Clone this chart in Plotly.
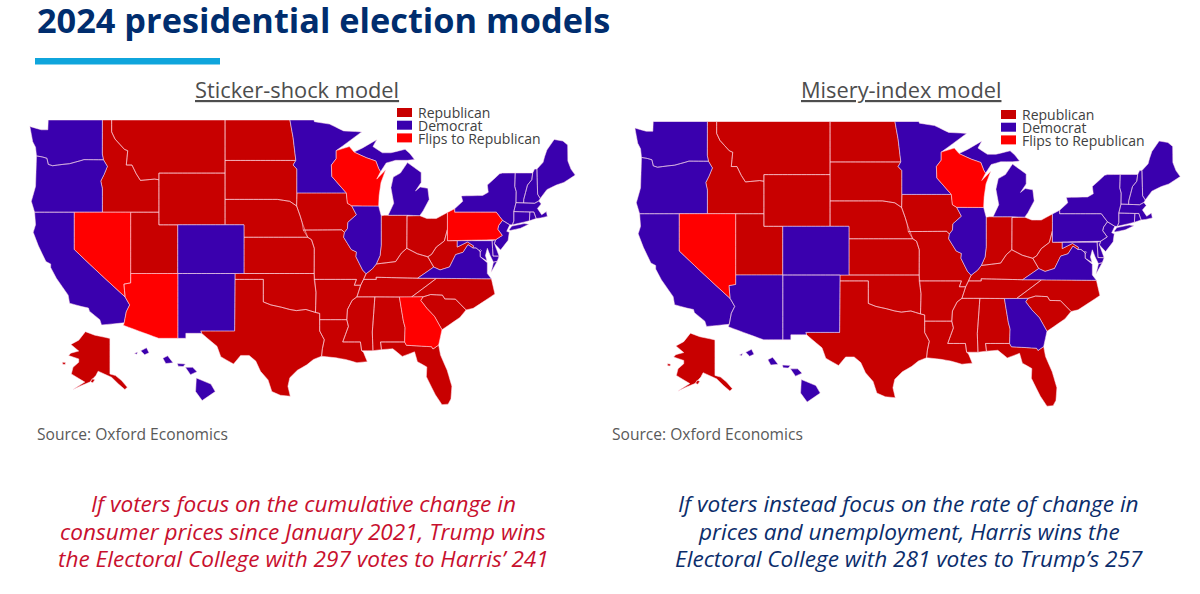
import plotly.graph_objects as go

# Category of each state in the two models
STICKER_REPUBLICAN = ["MT", "ID", "WY", "ND", "SD", "NE", "KS", "OK", "TX", "UT", "MO", "IA", "AR", "LA", "MS", "AL",
                      "TN", "KY", "IN", "OH", "WV", "SC", "NC", "FL", "AK"]
STICKER_DEMOCRAT = ["WA", "OR", "CA", "CO", "NM", "MN", "IL", "MI", "VA", "MD", "DC", "DE", "NJ", "NY", "CT", "RI",
                    "MA", "VT", "NH", "ME", "HI"]
STICKER_FLIPS = ["WI", "NV", "AZ", "GA", "PA"]

MISERY_REPUBLICAN = ["MT", "ID", "WY", "ND", "SD", "NE", "KS", "OK", "TX", "UT", "MO", "IA", "AR", "LA", "MS", "AL",
                     "TN", "KY", "IN", "OH", "WV", "SC", "NC", "FL", "AK"]
MISERY_DEMOCRAT = ["WA", "OR", "CA", "CO", "NM", "AZ", "MN", "IL", "MI", "VA", "MD", "DC", "DE", "NJ", "NY", "PA",
                   "CT", "RI", "MA", "VT", "NH", "ME", "HI", "GA"]
MISERY_FLIPS = ["WI", "NV"]

LEGEND_LABELS = ["Republican", "Democrat", "Flips to Republican"]
COLORS = ["#C80000", "#3A00AE", "#FF0000"]

STICKER_CAPTION = [
    "If voters focus on the cumulative change in",
    "consumer prices since January 2021, Trump wins",
    "the Electoral College with 297 votes to Harris’ 241",
]
MISERY_CAPTION = [
    "If voters instead focus on the rate of change in",
    "prices and unemployment, Harris wins the",
    "Electoral College with 281 votes to Trump’s 257",
]

# Hand-traced state outlines (lon, lat)
STATE_RINGS = {
    "WA": [[(-124.7, 48.38), (-123.5, 48.15), (-122.8, 48.15), (-122.75, 49), (-117.03, 49), (-117.04, 46.42),
            (-116.92, 45.99), (-118.98, 46), (-119.3, 45.93), (-120.5, 45.7), (-121.2, 45.65), (-122.3, 45.55),
            (-122.75, 45.65), (-122.9, 46.1), (-123.4, 46.2), (-124, 46.27), (-124.1, 46.9), (-124.4, 47.3)]],
    "OR": [[(-124, 46.27), (-123.4, 46.2), (-122.9, 46.1), (-122.75, 45.65), (-122.3, 45.55), (-121.2, 45.65),
            (-120.5, 45.7), (-119.3, 45.93), (-118.98, 46), (-116.92, 45.99), (-116.5, 45.5), (-116.85, 44.9),
            (-117.2, 44.4), (-117.03, 43.83), (-117.03, 42), (-124.2, 42), (-124.55, 42.85), (-124.1, 44)]],
    "CA": [[(-124.2, 42), (-120, 42), (-120, 39), (-114.63, 35), (-114.14, 34.3), (-114.5, 33.7), (-114.72, 32.72),
            (-117.12, 32.53), (-117.3, 33), (-118.4, 33.75), (-118.5, 34.03), (-119.2, 34.15), (-120.5, 34.45),
            (-120.65, 35.15), (-121.9, 36.6), (-122.5, 37.5), (-122.5, 37.8), (-123, 38), (-123.8, 39.3),
            (-124.35, 40.4), (-124.1, 41)]],
    "NV": [[(-120, 42), (-114.04, 42), (-114.04, 36.2), (-114.75, 36.1), (-114.63, 35), (-120, 39)]],
    "ID": [[(-117.03, 49), (-116.05, 49), (-116.05, 48), (-115.7, 47.5), (-114.7, 46.75), (-114.35, 46.65),
            (-114.5, 45.6), (-113.9, 45.6), (-113.45, 44.95), (-113, 44.45), (-111.5, 44.55), (-111.05, 44.5),
            (-111.05, 42), (-117.03, 42), (-117.03, 43.83), (-117.2, 44.4), (-116.85, 44.9), (-116.5, 45.5),
            (-116.92, 45.99), (-117.04, 46.42)]],
    "MT": [[(-116.05, 49), (-104.05, 49), (-104.05, 45), (-111.05, 45), (-111.05, 44.5), (-111.5, 44.55), (-113, 44.45),
            (-113.45, 44.95), (-113.9, 45.6), (-114.5, 45.6), (-114.35, 46.65), (-114.7, 46.75), (-115.7, 47.5),
            (-116.05, 48)]],
    "WY": [[(-111.05, 45), (-104.05, 45), (-104.05, 41), (-111.05, 41)]],
    "UT": [[(-114.04, 42), (-111.05, 42), (-111.05, 41), (-109.05, 41), (-109.05, 37), (-114.04, 37)]],
    "CO": [[(-109.05, 41), (-102.05, 41), (-102.05, 37), (-109.05, 37)]],
    "AZ": [[(-114.04, 37), (-109.05, 37), (-109.05, 31.33), (-111.07, 31.33), (-114.81, 32.5), (-114.72, 32.72),
            (-114.5, 33.7), (-114.14, 34.3), (-114.63, 35), (-114.75, 36.1), (-114.04, 36.2)]],
    "NM": [[(-109.05, 37), (-103, 37), (-103.04, 32), (-106.62, 32), (-106.53, 31.78), (-108.2, 31.78), (-108.2, 31.33),
            (-109.05, 31.33)]],
    "ND": [[(-104.05, 49), (-97.23, 49), (-96.85, 47.6), (-96.56, 45.94), (-104.05, 45.94)]],
    "SD": [[(-104.05, 45.94), (-96.56, 45.94), (-96.85, 45.6), (-96.45, 45.3), (-96.45, 43.5), (-96.48, 42.49),
            (-97.2, 42.85), (-98.5, 43), (-104.05, 43)]],
    "NE": [[(-104.05, 43), (-98.5, 43), (-97.2, 42.85), (-96.48, 42.49), (-96.1, 41.7), (-95.9, 41.2), (-95.3, 40),
            (-102.05, 40), (-102.05, 41), (-104.05, 41)]],
    "KS": [[(-102.05, 40), (-95.3, 40), (-94.9, 39.8), (-94.61, 39.1), (-94.62, 37), (-102.05, 37)]],
    "OK": [[(-103, 37), (-94.62, 37), (-94.43, 35.4), (-94.48, 33.64), (-95.5, 33.9), (-96.5, 33.8), (-97.2, 33.9),
            (-98.1, 34.1), (-99.2, 34.3), (-100, 34.56), (-100, 36.5), (-103, 36.5)]],
    "TX": [[(-106.62, 32), (-103.04, 32), (-103, 36.5), (-100, 36.5), (-100, 34.56), (-99.2, 34.3), (-98.1, 34.1),
            (-97.2, 33.9), (-96.5, 33.8), (-95.5, 33.9), (-94.48, 33.64), (-94.04, 33.55), (-94.04, 31.99),
            (-93.55, 31.2), (-93.75, 30.4), (-93.84, 29.7), (-94.7, 29.4), (-95.4, 28.9), (-96.4, 28.4), (-97.2, 27.7),
            (-97.4, 26.9), (-97.15, 25.96), (-98.2, 26.05), (-99.1, 26.4), (-99.5, 27.5), (-100.3, 28.3),
            (-100.8, 29.25), (-101.5, 29.77), (-102.4, 29.77), (-103.15, 28.98), (-104.5, 29.65), (-104.9, 30.6),
            (-106.53, 31.78)]],
    "MN": [[(-97.23, 49), (-95.15, 49), (-95.15, 49.38), (-94.8, 49.3), (-94.6, 48.72), (-93, 48.55), (-91.5, 48.07),
            (-89.6, 48), (-92.1, 46.75), (-92.29, 46.66), (-92.29, 46.07), (-92.8, 45.6), (-92.75, 44.75),
            (-91.22, 43.5), (-96.45, 43.5), (-96.45, 45.3), (-96.85, 45.6), (-96.56, 45.94), (-96.85, 47.6)]],
    "IA": [[(-96.45, 43.5), (-91.22, 43.5), (-91.1, 42.7), (-90.65, 42.5), (-90.15, 41.8), (-91.05, 41.2),
            (-91.1, 40.7), (-91.42, 40.38), (-91.7, 40.6), (-95.77, 40.58), (-95.9, 41.2), (-96.1, 41.7),
            (-96.48, 42.49)]],
    "MO": [[(-95.77, 40.58), (-91.7, 40.6), (-91.42, 40.38), (-91.5, 40), (-90.7, 39), (-90.15, 38.8), (-90.2, 38.4),
            (-89.5, 37.3), (-89.13, 36.98), (-89.4, 36.5), (-89.7, 36), (-90.37, 36), (-90.15, 36.5), (-94.62, 36.5),
            (-94.62, 37), (-94.61, 39.1), (-94.9, 39.8), (-95.3, 40)]],
    "AR": [[(-94.62, 36.5), (-90.15, 36.5), (-90.37, 36), (-89.7, 36), (-90.1, 35), (-90.6, 34.7), (-91.1, 33.9),
            (-91.17, 33), (-94.04, 33), (-94.04, 33.55), (-94.48, 33.64), (-94.43, 35.4)]],
    "LA": [[(-94.04, 33), (-91.17, 33), (-91, 32.4), (-91.6, 31), (-89.73, 31), (-89.6, 30.2), (-89.4, 30.05),
            (-89, 29.2), (-90.1, 29.1), (-91.3, 29.4), (-92.3, 29.55), (-93.84, 29.7), (-93.75, 30.4), (-93.55, 31.2),
            (-94.04, 31.99)]],
    "WI": [[(-92.29, 46.66), (-90.9, 46.95), (-90.4, 46.55), (-89.1, 46.14), (-88.1, 45.9), (-87.8, 45.35),
            (-87.6, 45.1), (-88, 44.55), (-87.05, 45.25), (-87.55, 44.3), (-87.75, 43.3), (-87.8, 42.49),
            (-90.65, 42.5), (-91.1, 42.7), (-91.22, 43.5), (-92.75, 44.75), (-92.8, 45.6), (-92.29, 46.07)]],
    "IL": [[(-90.65, 42.5), (-87.8, 42.49), (-87.53, 41.72), (-87.53, 39.35), (-87.65, 38.5), (-88.05, 37.8),
            (-88.45, 37.4), (-89.13, 36.98), (-89.5, 37.3), (-90.2, 38.4), (-90.15, 38.8), (-90.7, 39), (-91.5, 40),
            (-91.42, 40.38), (-91.1, 40.7), (-91.05, 41.2), (-90.15, 41.8)]],
    "IN": [[(-87.53, 41.72), (-87.2, 41.76), (-84.8, 41.76), (-84.82, 39.1), (-85.4, 38.7), (-86, 38), (-87, 37.9),
            (-88.05, 37.8), (-87.65, 38.5), (-87.53, 39.35)]],
    "OH": [[(-84.8, 41.7), (-83.45, 41.73), (-82.7, 41.5), (-81.7, 41.5), (-80.52, 41.98), (-80.52, 40.64),
            (-80.85, 39.7), (-81.7, 39.2), (-82.2, 38.6), (-82.6, 38.4), (-83.7, 38.65), (-84.82, 39.1)]],
    "KY": [[(-89.4, 36.5), (-88.05, 36.5), (-88.07, 36.68), (-83.68, 36.6), (-81.97, 37.54), (-82.6, 38.4),
            (-83.7, 38.65), (-84.82, 39.1), (-85.4, 38.7), (-86, 38), (-87, 37.9), (-88.05, 37.8), (-88.45, 37.4),
            (-89.13, 36.98)]],
    "TN": [[(-90.1, 35), (-89.7, 36), (-89.4, 36.5), (-88.05, 36.5), (-88.07, 36.68), (-83.68, 36.6), (-81.68, 36.59),
            (-82.6, 36.03), (-84.32, 34.99), (-88.2, 35)]],
    "MS": [[(-90.1, 35), (-88.2, 35), (-88.47, 31.9), (-88.4, 30.2), (-89.6, 30.2), (-89.73, 31), (-91.6, 31),
            (-91, 32.4), (-91.17, 33), (-91.1, 33.9), (-90.6, 34.7)]],
    "AL": [[(-88.2, 35), (-85.6, 34.98), (-85.18, 32.87), (-85, 32.3), (-85.05, 31), (-87.6, 31), (-87.5, 30.3),
            (-88, 30.25), (-88.4, 30.2), (-88.47, 31.9)]],
    "GA": [[(-85.6, 34.98), (-83.1, 35), (-83.35, 34.7), (-82.7, 34), (-81.9, 33.3), (-81.1, 32.1), (-81.45, 30.72),
            (-82.05, 30.36), (-82.2, 30.57), (-84.86, 30.7), (-85.05, 31), (-85, 32.3), (-85.18, 32.87)]],
    "FL": [[(-87.6, 31), (-85.05, 31), (-84.86, 30.7), (-82.2, 30.57), (-82.05, 30.36), (-81.45, 30.72), (-81.25, 29.8),
            (-80.55, 28.4), (-80.05, 26.9), (-80.15, 25.7), (-80.45, 25.2), (-81.1, 25.15), (-81.8, 26.1),
            (-82.2, 26.8), (-82.75, 27.8), (-82.7, 28.7), (-83.7, 29.2), (-84, 30.1), (-85.3, 29.68), (-86.3, 30.38),
            (-87.5, 30.3)]],
    "SC": [[(-83.1, 35), (-82.3, 35.2), (-81.05, 35.15), (-80.8, 34.82), (-79.67, 34.8), (-78.55, 33.86), (-79.2, 33.2),
            (-80.4, 32.5), (-81.1, 32.1), (-81.9, 33.3), (-82.7, 34), (-83.35, 34.7)]],
    "NC": [[(-84.32, 34.99), (-82.6, 36.03), (-81.68, 36.59), (-75.87, 36.55), (-75.5, 35.25), (-76.5, 34.7),
            (-77.8, 34), (-78.55, 33.86), (-79.67, 34.8), (-80.8, 34.82), (-81.05, 35.15), (-82.3, 35.2), (-83.1, 35)]],
    "VA": [[(-83.68, 36.6), (-81.68, 36.59), (-75.87, 36.55), (-76.3, 37), (-76.3, 37.9), (-77.05, 38.4),
            (-77.05, 38.85), (-77.5, 39.13), (-77.83, 39.13), (-78.35, 39.4), (-78.87, 38.77), (-79.65, 38.58),
            (-80.3, 37.55), (-81.3, 37.3), (-81.97, 37.54)],
           [(-75.9, 37.1), (-75.25, 38.03), (-75.65, 37.95)]],
    "WV": [[(-82.6, 38.4), (-81.97, 37.54), (-81.3, 37.3), (-80.3, 37.55), (-79.65, 38.58), (-78.87, 38.77),
            (-78.35, 39.4), (-77.83, 39.13), (-77.75, 39.3), (-78.4, 39.62), (-79.48, 39.2), (-79.48, 39.72),
            (-80.52, 39.72), (-80.52, 40.64), (-80.85, 39.7), (-81.7, 39.2), (-82.2, 38.6)]],
    "PA": [[(-80.52, 41.98), (-79.76, 42.27), (-79.76, 42), (-75.35, 42), (-74.7, 41.36), (-75.1, 40.95), (-75.2, 40.65),
            (-74.72, 40.15), (-75.42, 39.8), (-80.52, 39.72), (-80.52, 40.64)]],
    "NY": [[(-79.76, 42), (-79.76, 42.27), (-78.9, 42.85), (-79.05, 43.27), (-76.8, 43.3), (-76.2, 43.55), (-76.3, 44.1),
            (-75, 44.95), (-74.7, 45), (-73.35, 45.01), (-73.4, 44), (-73.25, 43.6), (-73.27, 42.75), (-73.5, 42.05),
            (-73.5, 41.3), (-73.65, 41), (-73.92, 41), (-74.7, 41.36), (-75.35, 42)],
           [(-74, 40.6), (-73.7, 40.9), (-72.4, 41.1), (-71.9, 41.05), (-72.8, 40.72), (-73.9, 40.55)]],
    "NJ": [[(-74.7, 41.36), (-73.92, 41), (-74.25, 40.48), (-73.98, 40.4), (-74.1, 39.75), (-74.9, 38.95), (-75.55, 39.5),
            (-75.42, 39.8), (-74.72, 40.15), (-75.2, 40.65), (-75.1, 40.95)]],
    "DE": [[(-75.79, 39.72), (-75.42, 39.8), (-75.55, 39.5), (-75.05, 38.45), (-75.7, 38.46)]],
    "MD": [[(-79.48, 39.72), (-75.79, 39.72), (-75.7, 38.46), (-75.05, 38.45), (-75.25, 38.03), (-75.65, 37.95),
            (-76, 38.5), (-76.3, 39.1), (-76.5, 38.5), (-76.33, 38.05), (-77.05, 38.4), (-77.05, 38.85), (-77.5, 39.13),
            (-77.83, 39.13), (-77.75, 39.3), (-78.4, 39.62), (-79.48, 39.2)]],
    "DC": [[(-77.12, 38.93), (-77.04, 39), (-76.91, 38.89), (-77.04, 38.79)]],
    "CT": [[(-73.5, 42.05), (-71.8, 42.02), (-71.85, 41.32), (-73.65, 41), (-73.5, 41.3)]],
    "RI": [[(-71.8, 42.02), (-71.38, 42.02), (-71.13, 41.5), (-71.85, 41.32)]],
    "MA": [[(-73.5, 42.05), (-73.27, 42.75), (-71.3, 42.7), (-70.85, 42.88), (-70.6, 42.65), (-71, 42.3), (-70.55, 41.8),
            (-70.05, 42.05), (-69.95, 41.67), (-70.65, 41.55), (-71.13, 41.5), (-71.38, 42.02), (-71.8, 42.02)]],
    "VT": [[(-73.35, 45.01), (-71.5, 45.01), (-71.6, 44.5), (-72.05, 44.1), (-72.45, 43), (-72.46, 42.73),
            (-73.27, 42.75), (-73.25, 43.6), (-73.4, 44)]],
    "NH": [[(-71.5, 45.01), (-71.3, 45.3), (-71.05, 45.3), (-70.98, 43.4), (-70.7, 43.07), (-70.85, 42.88), (-71.3, 42.7),
            (-72.46, 42.73), (-72.45, 43), (-72.05, 44.1), (-71.6, 44.5)]],
    "ME": [[(-71.05, 45.3), (-70.4, 45.8), (-70.25, 46.2), (-70, 46.7), (-69.23, 47.46), (-68.3, 47.35), (-67.8, 47.07),
            (-67.78, 45.9), (-67.45, 45.3), (-67, 44.85), (-68.2, 44.3), (-69, 44.1), (-70, 43.75), (-70.7, 43.07),
            (-70.98, 43.4)]],
    "MI": [[(-86.8, 41.76), (-84.8, 41.76), (-83.45, 41.73), (-83.1, 42.1), (-82.45, 43), (-82.6, 43.85), (-83.4, 43.95),
            (-83.9, 43.65), (-83.3, 44.3), (-83.3, 45.05), (-84.75, 45.78), (-85.5, 45), (-86.25, 44.7), (-86.5, 43.9),
            (-86.2, 42.7)],
           [(-90.4, 46.55), (-89.1, 46.14), (-88.1, 45.9), (-87.8, 45.35), (-87.6, 45.1), (-87, 45.75), (-86, 45.95),
            (-84.75, 45.95), (-84, 46), (-84.5, 46.45), (-85, 46.75), (-86.5, 46.5), (-87.4, 46.5), (-88.4, 46.95),
            (-88, 47.45), (-89.5, 46.85)]],
}

# Alaska and Hawaii in nominal coordinates, moved under the southwest by inset()
ALASKA_RINGS = [
    [(-157.4, 71.4), (-151.2, 70.4), (-141.2, 69.5), (-141.2, 59.3), (-137.5, 58.8), (-133.5, 57.35), (-129.7, 55.4),
     (-131.3, 54.7), (-135.7, 56.4), (-140.1, 58.3), (-149, 60.1), (-150.5, 58.8), (-154.5, 56.9), (-160, 55.9),
     (-165.6, 54.7), (-157.8, 56.9), (-162.3, 58.1), (-166.7, 59.3), (-165.6, 61.2), (-161.8, 62.7), (-161.8, 63.65),
     (-168.5, 64.6), (-167.1, 65.3), (-161.8, 65.9), (-167, 67.8), (-161.8, 69)],
    [(-153, 57.9), (-151.2, 57.6), (-152.5, 56.7), (-154, 57)],
    [(-172.6, 62.7), (-170.6, 62.6), (-170.8, 62), (-172.4, 62.1)],
]
HAWAII_RINGS = [
    [(-156, 20.3), (-155, 19.9), (-154.7, 19.4), (-155.6, 18.8), (-156.05, 19.4)],
    [(-156.75, 21), (-156.25, 21), (-155.95, 20.72), (-156.4, 20.52)],
    [(-157.3, 21.25), (-156.75, 21.22), (-156.9, 21.05), (-157.25, 21.08)],
    [(-158.3, 21.6), (-157.97, 21.75), (-157.6, 21.3), (-158.1, 21.25)],
    [(-159.82, 22.07), (-159.42, 22.27), (-159.25, 21.95), (-159.55, 21.82)],
    [(-160.25, 21.9), (-160.05, 22), (-160.08, 21.85)],
]


def inset(rings, lon0, lat0, new_lon0, new_lat0, k_lon, k_lat):
    return [[(new_lon0 + k_lon * (lon - lon0), new_lat0 + k_lat * (lat - lat0)) for lon, lat in ring] for ring in rings]


STATE_RINGS["AK"] = inset(ALASKA_RINGS, -141, 71.3, -116.2, 31.9, 0.16, 0.32)
STATE_RINGS["HI"] = inset(HAWAII_RINGS, -159.5, 22.05, -112.48, 30.16, 1.54, 1.42)


def clockwise(ring):
    # geo polygons wound the other way fill the whole globe
    area = sum(x0 * y1 - x1 * y0 for (x0, y0), (x1, y1) in zip(ring, ring[1:] + ring[:1]))
    return ring[::-1] if area > 0 else ring


def split_edges(ring, step=0.5):
    # geo lines are great circles, so long borders need extra vertices to stay straight
    closed = list(ring) + [ring[0]]
    points = [closed[0]]
    for (x0, y0), (x1, y1) in zip(closed[:-1], closed[1:]):
        n = max(1, int(max(abs(x1 - x0), abs(y1 - y0)) / step))
        for i in range(1, n + 1):
            points.append((x0 + (x1 - x0) * i / n, y0 + (y1 - y0) * i / n))
    return points


def add_states(fig, states, color, name, geo):
    lons, lats = [], []
    for state in states:
        for ring in STATE_RINGS[state]:
            for lon, lat in split_edges(clockwise(ring)):
                lons.append(lon)
                lats.append(lat)
            lons.append(None)
            lats.append(None)
    fig.add_trace(
        go.Scattergeo(
            lon=lons,
            lat=lats,
            mode="lines",
            fill="toself",
            fillcolor=color,
            line=dict(color="rgba(255,225,235,0.75)", width=0.7),
            name=name,
            hoverinfo="name",
            showlegend=False,
            geo=geo,
        )
    )


def geo_layout(left, right, top, bottom):
    return dict(
        domain=dict(x=[left / W, right / W], y=[1 - bottom / H, 1 - top / H]),
        projection=dict(type="mercator"),
        lonaxis=dict(range=[-125.5, -66]),
        lataxis=dict(range=[24.4, 49.6]),
        showframe=False,
        showland=False,
        showlakes=False,
        showocean=False,
        showrivers=False,
        showcountries=False,
        showcoastlines=False,
        showsubunits=False,
        bgcolor="rgba(0,0,0,0)",
    )


def label(text, x, y, size, color, xanchor="left", family="Open Sans"):
    return dict(
        text=text,
        x=x / W,
        y=1 - y / H,
        xref="paper",
        yref="paper",
        xanchor=xanchor,
        yanchor="middle",
        showarrow=False,
        font=dict(family=family, size=size, color=color),
    )


W, H = 1200, 594

fig = go.Figure()

for states, color, name in zip([STICKER_REPUBLICAN, STICKER_DEMOCRAT, STICKER_FLIPS], COLORS, LEGEND_LABELS):
    add_states(fig, states, color, name, "geo")
for states, color, name in zip([MISERY_REPUBLICAN, MISERY_DEMOCRAT, MISERY_FLIPS], COLORS, LEGEND_LABELS):
    add_states(fig, states, color, name, "geo2")

annotations = [
    label("<b>2024 presidential election models</b>", 35, 19, 34.3, "#002D6E"),
    label("<u>Sticker-shock model</u>", 297, 89, 21.8, "#4D4D4D", "center"),
    label("<u>Misery-index model</u>", 901, 89, 21.8, "#4D4D4D", "center"),
    label("Source: Oxford Economics", 35, 434, 15.6, "#595959"),
    label("Source: Oxford Economics", 610, 434, 15.6, "#595959"),
]

# Captions, one annotation per line to keep the slide's line spacing
for line, y in zip(STICKER_CAPTION, [503, 531, 558]):
    annotations.append(label(f"<i>{line}</i>", 303, y, 22.6, "#C8102E", "center"))
for line, y in zip(MISERY_CAPTION, [503, 531, 558]):
    annotations.append(label(f"<i>{line}</i>", 909, y, 22.6, "#0B2D6B", "center"))

# Cyan rule under the title
shapes = [
    dict(type="rect", xref="paper", yref="paper", x0=35 / W, x1=220 / W, y0=1 - 64.5 / H, y1=1 - 58 / H,
         fillcolor="#0FA5DC", line_width=0),
]

# The slide's hand-made legends
for x_left, y_top in [(397, 108), (1001, 110)]:
    for i, (text, color) in enumerate(zip(LEGEND_LABELS, COLORS)):
        y = y_top + 12.7 * i
        shapes.append(
            dict(type="rect", xref="paper", yref="paper", x0=x_left / W, x1=(x_left + 15) / W,
                 y0=1 - (y + 9) / H, y1=1 - y / H, fillcolor=color, line_width=0)
        )
        annotations.append(label(text, x_left + 19, y + 5, 14, "#404040"))

fig.update_layout(
    width=W,
    height=H,
    margin=dict(t=0, b=0, l=0, r=0),
    paper_bgcolor="white",
    plot_bgcolor="white",
    showlegend=False,
    geo=geo_layout(18, 589, 120, 427),
    geo2=geo_layout(623, 1194, 121.5, 428.5),
    annotations=annotations,
    shapes=shapes,
)

# Drop the page's default body margin so the figure fills the window
fig.write_html(
    "out.html",
    config={"displayModeBar": False},
    post_script="document.body.style.margin='0';document.body.style.overflow='hidden';",
)
